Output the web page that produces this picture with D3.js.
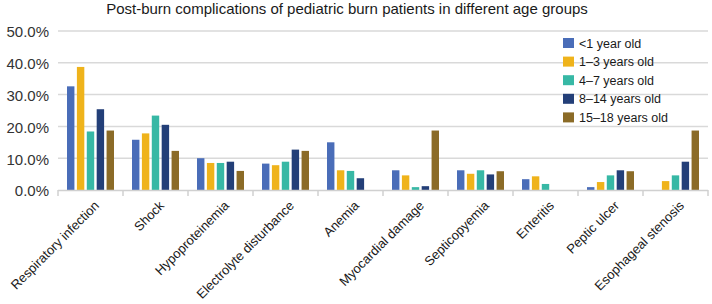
<!DOCTYPE html>
<html>
<head>
<meta charset="utf-8">
<script src="https://cdn.jsdelivr.net/npm/d3@7"></script>
<style>
	body { margin: 0; background: white; }
	text { font-family: "Liberation Sans", Arial, Helvetica, sans-serif; }
</style>
</head>
<body>
<script>

//****************************************************************************************************************************//
// Data

var categories = ["Respiratory infection", "Shock", "Hypoproteinemia", "Electrolyte disturbance", "Anemia",
	"Myocardial damage", "Septicopyemia", "Enteritis", "Peptic ulcer", "Esophageal stenosis"];
var groups = ["<1 year old", "1\u20133 years old", "4\u20137 years old", "8\u201314 years old", "15\u201318 years old"];

var under1   = [32.6, 15.8, 10.0,  8.3, 15.0,  6.2, 6.2, 3.4, 0.9, 0.0];
var age1to3  = [38.7, 17.8,  8.5,  7.8,  6.2,  4.6, 5.1, 4.3, 2.5, 2.8];
var age4to7  = [18.4, 23.4,  8.5,  8.9,  6.0,  0.9, 6.2, 1.9, 4.6, 4.6];
var age8to14 = [25.4, 20.5,  8.9, 12.7,  3.7,  1.2, 4.9, 0.0, 6.2, 8.9];
var age15to18= [18.7, 12.3,  6.0, 12.3,  0.0, 18.7, 5.9, 0.0, 5.9, 18.7];
var series = [under1, age1to3, age4to7, age8to14, age15to18];

var yTicks = [0, 10, 20, 30, 40, 50];
var colors = ["#4a6db8", "#efb31b", "#37b8a5", "#233f78", "#8b6b27"];

//****************************************************************************************************************************//
// Canvas

var width = 712, height = 304;
var canvas = d3.select("body").append("svg")
	.attr("width", width)
	.attr("height", height);

var plotLeft = 58, plotRight = 708, plotTop = 31, plotBottom = 190;

var x0 = d3.scaleBand()
	.domain(categories)
	.range([plotLeft, plotRight]);

var x1 = d3.scaleBand()
	.domain(groups)
	.range([9, x0.bandwidth() - 9])
	.paddingInner(0.25);

var y = d3.scaleLinear()
	.domain([0, 50])
	.range([plotBottom, plotTop]);

//****************************************************************************************************************************//
// Title

canvas.append("text")
	.attr("x", 347)
	.attr("y", 14)
	.attr("text-anchor", "middle")
	.style("font-size", "15px")
	.attr("fill", "#1a1a1a")
	.text("Post-burn complications of pediatric burn patients in different age groups");

//****************************************************************************************************************************//
// Grid and y axis labels

canvas.append("g")
	.selectAll("line")
	.data(yTicks.filter(function(d){ return d > 0; }))
	.join("line")
	.attr("x1", plotLeft)
	.attr("x2", plotRight)
	.attr("y1", function(d){ return y(d); })
	.attr("y2", function(d){ return y(d); })
	.attr("stroke", "#d9d9d9")
	.attr("stroke-width", 1.5);

canvas.append("g")
	.selectAll("text")
	.data(yTicks)
	.join("text")
	.attr("x", 49)
	.attr("y", function(d){ return y(d) + 1; })
	.attr("dy", "0.36em")
	.attr("text-anchor", "end")
	.style("font-size", "15px")
	.attr("fill", "#333")
	.text(function(d){ return d.toFixed(1) + "%"; });

//****************************************************************************************************************************//
// Bars

var groupSel = canvas.append("g")
	.selectAll("g")
	.data(categories)
	.join("g")
	.attr("transform", function(d){ return "translate(" + x0(d) + ",0)"; });

groupSel.selectAll("rect")
	.data(function(d, i){ return series.map(function(s, k){ return {group : groups[k], value : s[i], k : k}; }); })
	.join("rect")
	.attr("x", function(d){ return x1(d.group); })
	.attr("width", x1.bandwidth())
	.attr("y", function(d){ return y(d.value); })
	.attr("height", function(d){ return plotBottom - y(d.value); })
	.attr("fill", function(d){ return colors[d.k]; });

//****************************************************************************************************************************//
// X axis

var xAxisGroup = canvas.append("g");

xAxisGroup.append("line")
	.attr("x1", plotLeft)
	.attr("x2", plotRight)
	.attr("y1", plotBottom + 0.5)
	.attr("y2", plotBottom + 0.5)
	.attr("stroke", "#d0d0d0")
	.attr("stroke-width", 1.5);

xAxisGroup.selectAll(".tickmark")
	.data(categories.concat(["end"]))
	.join("line")
	.attr("class", "tickmark")
	.attr("x1", function(d, i){ return plotLeft + i * x0.bandwidth(); })
	.attr("x2", function(d, i){ return plotLeft + i * x0.bandwidth(); })
	.attr("y1", plotBottom)
	.attr("y2", plotBottom + 6)
	.attr("stroke", "#d0d0d0")
	.attr("stroke-width", 1.5);

xAxisGroup.selectAll(".label")
	.data(categories)
	.join("text")
	.attr("class", "label")
	.attr("transform", function(d){ return "translate(" + (x0(d) + x0.bandwidth()/2 + 3) + "," + (plotBottom + 10) + ") rotate(-45)"; })
	.attr("text-anchor", "end")
	.attr("dy", "0.7em")
	.style("font-size", "13px")
	.attr("fill", "#1a1a1a")
	.text(function(d){ return d; });

//****************************************************************************************************************************//
// Legend

var legend = canvas.append("g")
	.attr("transform", "translate(563,38)");

var legendItem = legend.selectAll("g")
	.data(groups)
	.join("g")
	.attr("transform", function(d, i){ return "translate(0," + (i * 18.6) + ")"; });

legendItem.append("rect")
	.attr("width", 11)
	.attr("height", 10)
	.attr("fill", function(d, i){ return colors[i]; });

legendItem.append("text")
	.attr("x", 16)
	.attr("y", 5)
	.attr("dy", "0.36em")
	.style("font-size", "12.5px")
	.attr("fill", "#1a1a1a")
	.text(function(d){ return d; });

</script>
</body>
</html>
